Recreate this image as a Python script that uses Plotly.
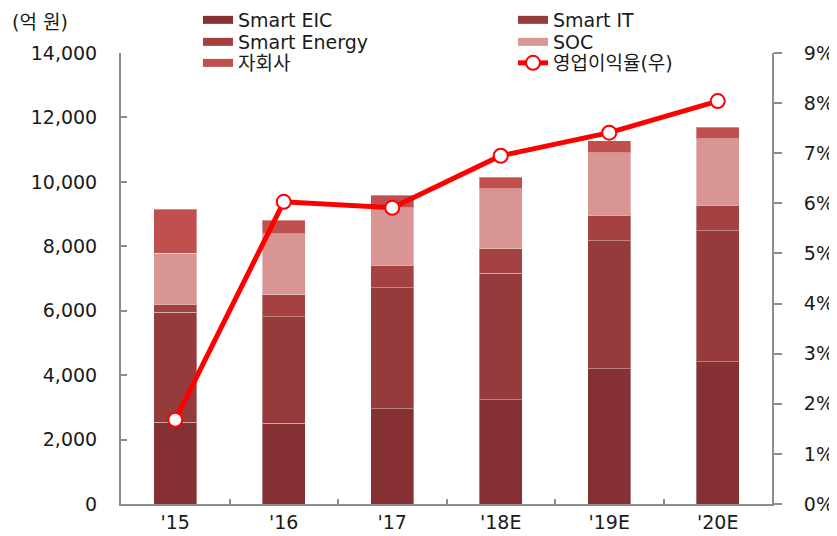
import plotly.graph_objects as go

categories = ["'15", "'16", "'17", "'18E", "'19E", "'20E"]
smart_eic = [2540, 2500, 2960, 3230, 4200, 4420]
smart_it = [3410, 3310, 3750, 3940, 3970, 4060]
smart_energy = [250, 690, 700, 760, 790, 790]
soc = [1580, 1890, 1790, 1850, 1950, 2070]
subsidiary = [1370, 420, 380, 360, 360, 360]
op_margin = [1.68, 6.03, 5.91, 6.95, 7.41, 8.04]

series_names = ["Smart EIC", "Smart IT", "Smart Energy", "SOC", "자회사"]
series_values = [smart_eic, smart_it, smart_energy, soc, subsidiary]
series_colors = ["#853134", "#963B3B", "#A44242", "#D99594", "#C0504D"]
legend_ids = ["legend", "legend2", "legend3", "legend4", "legend5"]

FONT = "DejaVu Sans, Noto Sans CJK KR, sans-serif"
FS = 19

fig = go.Figure()
for name, vals, col in zip(series_names, series_values, series_colors):
    fig.add_trace(go.Bar(
        x=categories, y=vals, name=name, marker_color=col,
        marker_line=dict(color="rgba(255,255,255,0.35)", width=1),
        width=0.4, showlegend=False, yaxis="y"))

# legend-only swatches
for name, col, lg in zip(series_names, series_colors, legend_ids):
    fig.add_trace(go.Scatter(
        x=[None], y=[None], mode="lines", name=name,
        line=dict(color=col, width=8), legend=lg, showlegend=True))

fig.add_trace(go.Scatter(
    x=categories, y=op_margin, name="영업이익율(우)", mode="lines+markers",
    line=dict(color="#FF0000", width=5),
    marker=dict(size=14, color="white", line=dict(color="#FF0000", width=2)),
    yaxis="y2", legend="legend6"))

axis_col = "#8C8C8C"

# page offset of the figure (default body margin)
OFF = 8
PL, PT, PW, PH = 121, 53, 651, 451   # plot area in page pixels


def px_x(p):
    return (p - PL) / PW


def px_y(p):
    return (PT + PH - p) / PH


TXT_OFF = 40
legend_pos = {
    "legend": (238, 20), "legend2": (553, 20),
    "legend3": (238, 42), "legend4": (553, 42),
    "legend5": (238, 63), "legend6": (553, 63),
}
legend_layout = {}
for lg, (tx, ty) in legend_pos.items():
    legend_layout[lg] = dict(
        x=px_x(tx - TXT_OFF), y=px_y(ty), xanchor="left", yanchor="middle",
        bgcolor="rgba(0,0,0,0)", font=dict(size=FS), itemwidth=30)

W, H = 837, 536
fig.update_layout(
    width=W, height=H,
    margin=dict(l=PL - OFF, r=W - (PL - OFF) - PW, t=PT - OFF,
                b=H - (PT - OFF) - PH, autoexpand=False),
    plot_bgcolor="white", paper_bgcolor="white",
    barmode="stack", bargap=0.6,
    font=dict(family=FONT, size=FS, color="#1a1a1a"),
    showlegend=True,
    xaxis=dict(showline=True, linecolor=axis_col, linewidth=2,
               ticks="inside", ticklen=5, tickcolor=axis_col, tickwidth=1.5,
               tickson="boundaries", showgrid=False,
               tickfont=dict(size=FS)),
    yaxis=dict(range=[0, 14000], dtick=2000, tickformat=",",
               showline=True, linecolor=axis_col, linewidth=2,
               ticks="inside", ticklen=6, tickcolor=axis_col, tickwidth=1.5,
               showgrid=False, zeroline=False, ticklabelstandoff=18,
               tickfont=dict(size=FS)),
    yaxis2=dict(range=[0, 9], dtick=1, ticksuffix="%", overlaying="y", side="right",
                showline=True, linecolor=axis_col, linewidth=2,
                ticks="outside", ticklen=8, tickcolor=axis_col, tickwidth=1.5,
                showgrid=False, zeroline=False, ticklabelstandoff=18,
                tickfont=dict(size=FS)),
    annotations=[dict(text="(억 원)", xref="paper", yref="paper",
                      x=px_x(10), y=px_y(22), xanchor="left", yanchor="middle",
                      showarrow=False, font=dict(size=19))],
    **legend_layout,
)

fig.write_html("out.html")
